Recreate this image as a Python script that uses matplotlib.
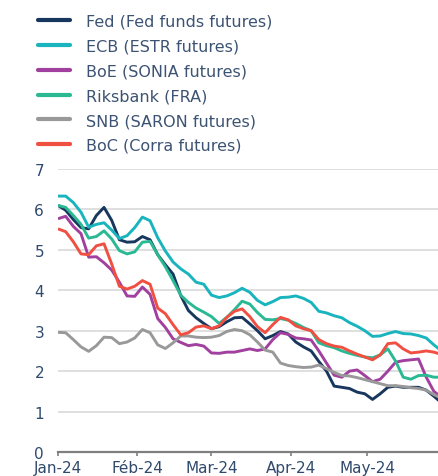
import pandas as pd
import matplotlib.pyplot as plt

# sample dates, every 3 days from 1 Jan 2024, last one on 29 May
dates = list(pd.date_range('2024-01-01', periods=50, freq='3D')) + [pd.Timestamp('2024-05-29')]

fed = [6.10, 5.98, 5.75, 5.55, 5.52, 5.85, 6.05, 5.73, 5.25, 5.19,
       5.20, 5.33, 5.25, 4.88, 4.63, 4.40, 3.87, 3.50, 3.32, 3.18,
       3.05, 3.10, 3.22, 3.32, 3.33, 3.17, 3.00, 2.80, 2.88, 2.98,
       2.92, 2.72, 2.60, 2.50, 2.24, 2.00, 1.63, 1.60, 1.57, 1.48,
       1.44, 1.30, 1.44, 1.60, 1.63, 1.60, 1.60, 1.60, 1.53, 1.38, 1.27]
ecb = [6.33, 6.33, 6.17, 5.93, 5.56, 5.63, 5.67, 5.49, 5.28, 5.35,
       5.55, 5.81, 5.72, 5.30, 4.97, 4.70, 4.53, 4.40, 4.20, 4.15,
       3.88, 3.82, 3.86, 3.94, 4.05, 3.95, 3.75, 3.64, 3.72, 3.82,
       3.83, 3.86, 3.80, 3.70, 3.48, 3.44, 3.37, 3.32, 3.20, 3.11,
       3.00, 2.86, 2.87, 2.93, 2.98, 2.93, 2.92, 2.88, 2.82, 2.65, 2.55]
boe = [5.77, 5.83, 5.58, 5.40, 4.82, 4.83, 4.68, 4.50, 4.20, 3.86,
       3.85, 4.08, 3.90, 3.30, 3.08, 2.80, 2.71, 2.63, 2.66, 2.62,
       2.45, 2.44, 2.47, 2.47, 2.51, 2.55, 2.51, 2.55, 2.78, 2.95,
       2.91, 2.82, 2.80, 2.77, 2.50, 2.20, 1.90, 1.85, 2.00, 2.03,
       1.89, 1.74, 1.80, 2.00, 2.22, 2.26, 2.28, 2.30, 1.85, 1.50, 1.40]
riks = [6.10, 6.05, 5.85, 5.63, 5.29, 5.33, 5.47, 5.27, 4.98, 4.90,
        4.95, 5.19, 5.21, 4.88, 4.58, 4.24, 3.88, 3.70, 3.56, 3.46,
        3.35, 3.18, 3.33, 3.52, 3.73, 3.66, 3.45, 3.28, 3.27, 3.30,
        3.26, 3.18, 3.08, 3.00, 2.70, 2.63, 2.58, 2.50, 2.44, 2.39,
        2.35, 2.33, 2.40, 2.55, 2.25, 1.85, 1.80, 1.89, 1.90, 1.85, 1.85]
snb = [2.96, 2.95, 2.78, 2.60, 2.49, 2.63, 2.84, 2.83, 2.68, 2.72,
       2.82, 3.03, 2.95, 2.65, 2.56, 2.70, 2.87, 2.87, 2.84, 2.83,
       2.84, 2.88, 2.98, 3.03, 3.00, 2.90, 2.72, 2.52, 2.47, 2.20,
       2.14, 2.11, 2.09, 2.10, 2.15, 2.06, 1.97, 1.89, 1.88, 1.84,
       1.79, 1.74, 1.69, 1.64, 1.64, 1.62, 1.59, 1.57, 1.53, 1.42, 1.36]
boc = [5.52, 5.45, 5.20, 4.90, 4.88, 5.10, 5.15, 4.65, 4.10, 4.03,
       4.10, 4.24, 4.15, 3.56, 3.42, 3.15, 2.90, 2.95, 3.09, 3.12,
       3.05, 3.12, 3.33, 3.48, 3.54, 3.35, 3.10, 2.95, 3.15, 3.33,
       3.27, 3.12, 3.05, 3.00, 2.78, 2.68, 2.62, 2.59, 2.50, 2.42,
       2.35, 2.28, 2.40, 2.68, 2.70, 2.55, 2.45, 2.47, 2.50, 2.47, 2.43]

labels = ['Fed (Fed funds futures)', 'ECB (ESTR futures)', 'BoE (SONIA futures)',
          'Riksbank (FRA)', 'SNB (SARON futures)', 'BoC (Corra futures)']
colors = ['#17375e', '#19b4bd', '#a1409e', '#2bb994', '#999999', '#f04f41']
month_ticks = ['2024-01-01', '2024-02-01', '2024-03-01', '2024-04-01', '2024-05-01']
month_labels = ['Jan-24', 'Féb-24', 'Mar-24', 'Apr-24', 'May-24']

text_color = '#2f4a6d'

fig = plt.figure(figsize=(4.39, 4.77), dpi=100)
ax = fig.add_axes([58 / 439, 1 - 453 / 477, 1 - 58 / 439, (453 - 170) / 477])

for series, lab, col in zip([fed, ecb, boe, riks, snb, boc], labels, colors):
    ax.plot(dates, series, color=col, lw=2.1, label=lab, solid_capstyle='butt')

ax.set_ylim(0, 7)
ax.set_yticks(range(0, 8))
ax.set_xlim(pd.Timestamp('2024-01-01'), pd.Timestamp('2024-05-29'))
ax.set_xticks(pd.to_datetime(month_ticks))
ax.set_xticklabels(month_labels)

ax.yaxis.grid(True, color='#d9d9d9', lw=1.2)
ax.set_axisbelow(True)
for side in ['top', 'right', 'left']:
    ax.spines[side].set_visible(False)
ax.spines['bottom'].set_color('#7f7f7f')
ax.spines['bottom'].set_linewidth(1.6)

ax.tick_params(axis='y', length=0, pad=10, labelsize=11, labelcolor=text_color)
ax.tick_params(axis='x', length=3, width=1.2, color='#7f7f7f', pad=3,
               labelsize=11, labelcolor=text_color)

leg = fig.legend(loc='upper left', bbox_to_anchor=(32 / 439, 1 - 8 / 477),
                 frameon=False, fontsize=11.5, handlelength=2.0,
                 handletextpad=1.0, labelspacing=0.62, borderaxespad=0)
for t in leg.get_texts():
    t.set_color('#3d5373')
for h in leg.get_lines():
    h.set_linewidth(3)
    h.set_solid_capstyle('round')

fig.savefig('out.png', dpi=100)
